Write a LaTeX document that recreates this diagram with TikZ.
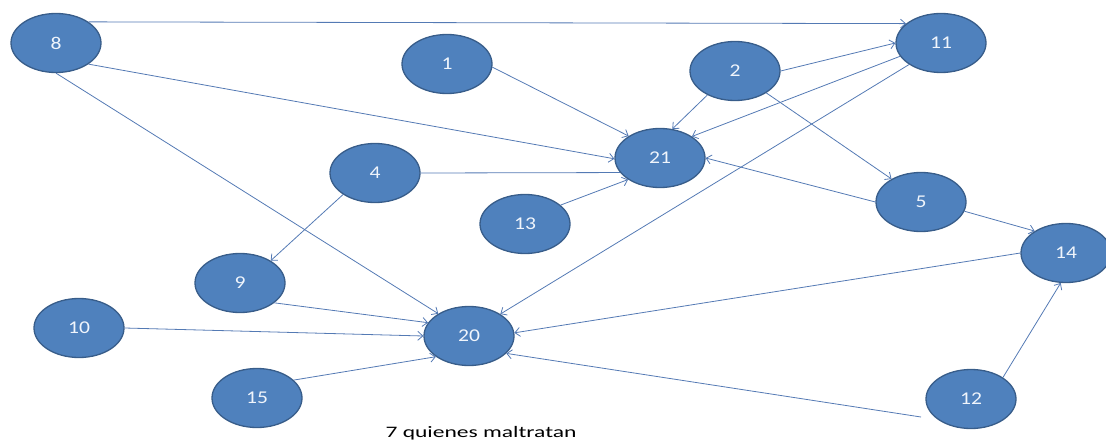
\documentclass[tikz,border=0pt]{standalone}
\usepackage{fontspec}
\usepackage{graphicx}
\setmainfont{Carlito}
\usetikzlibrary{shapes.geometric,arrows.meta}
\definecolor{nodefill}{RGB}{79,129,189}
\definecolor{nodeedge}{RGB}{56,93,138}
\definecolor{edgecol}{RGB}{84,122,180}
\definecolor{numcol}{RGB}{240,245,252}
\tikzset{
  circ/.style={ellipse, draw=nodeedge, line width=1.3pt, fill=nodefill,
    minimum width=90pt, minimum height=59pt, inner sep=0pt,
    text=numcol, font=\fontsize{18}{18}\selectfont},
  conn/.style={draw=edgecol, line width=0.8pt, -{Straight Barb[length=5pt,width=9pt]}},
  plain/.style={draw=edgecol, line width=0.8pt},
}
\newcommand{\num}[1]{\scalebox{1.2}[1]{#1}}
\begin{document}
\begin{tikzpicture}[x=1pt,y=-1pt]
\useasboundingbox (0,0) rectangle (1106,441);
\node[circ] (n8)  at (56,43)   {\num{8}};
\node[circ] (n1)  at (447,64)  {\num{1}};
\node[circ] (n2)  at (735,71)  {\num{2}};
\node[circ] (n11) at (941,43)  {\num{11}};
\node[circ] (n21) at (660,158) {\num{21}};
\node[circ] (n4)  at (375,173) {\num{4}};
\node[circ] (n13) at (525,224) {\num{13}};
\node[circ] (n5)  at (921,202) {\num{5}};
\node[circ] (n14) at (1066,253) {\num{14}};
\node[circ] (n9)  at (240,283) {\num{9}};
\node[circ] (n10) at (79,328)  {\num{10}};
\node[circ] (n20) at (469,336) {\num{20}};
\node[circ] (n15) at (257,398) {\num{15}};
\node[circ] (n12) at (971,399) {\num{12}};
\coordinate (s12) at (921,417);
\node[font=\fontsize{16}{16}\selectfont, anchor=base] (lbl) at (481,437) {\scalebox{1.47}[1]{7 quienes maltratan}};

\draw[conn] (n8.33) -- (n11.151);
\draw[conn] (n8.-33) -- (n21.181);
\draw[conn] (n8.-90) -- (n20.144);
\draw[conn] (n1.-4) -- (n21.145);
\draw[conn] (n2.221) -- (n21.67);
\draw[conn] (n2.0) -- (n11.180);
\draw[conn] (n11.198) -- (n21.34);
\draw[conn] (n11.214) -- (n20.35);
\draw[conn] (n2.-35) -- (n5.142);
\draw[conn] (n5.180) -- (n21.0);
\draw[conn] (n5.-12) -- (n14.145);
\draw[plain] (n4.0) -- (n21.200);
\draw[conn] (n13.28) -- (n21.214);
\draw[conn] (n4.214) -- (n9.36);
\draw[conn] (n9.-30) -- (n20.162);
\draw[conn] (n10.0) -- (n20.180);
\draw[conn] (n15.26) -- (n20.212);
\draw[conn] (n14.180) -- (n20.4);
\draw[conn] (n12.34) -- (n14.-100);
\draw[conn] (s12) -- (n20.-25);
\end{tikzpicture}
\end{document}
